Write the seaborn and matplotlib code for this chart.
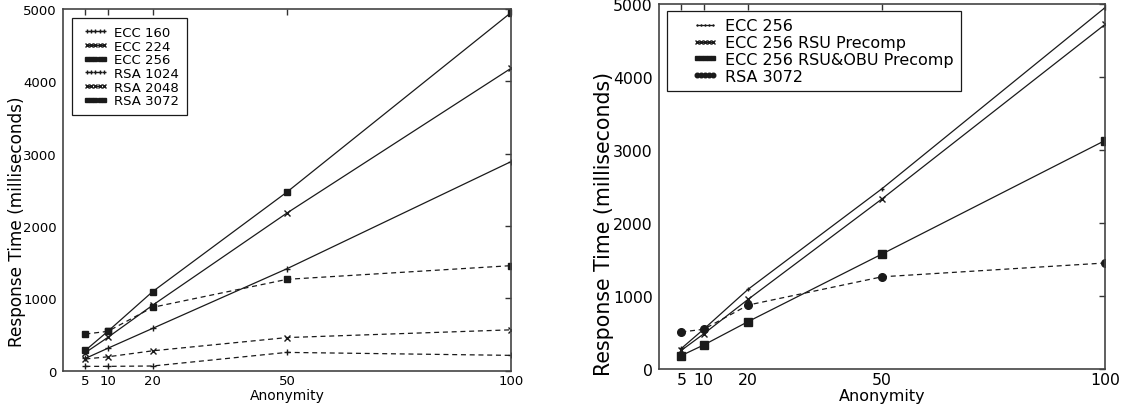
import matplotlib
matplotlib.use("Agg")
import matplotlib.pyplot as plt
import seaborn as sns
from matplotlib.lines import Line2D
from matplotlib.legend_handler import HandlerLine2D

anonymity = [5, 10, 20, 50, 100]
xticks = [5, 10, 20, 50, 100]
yticks = [0, 1000, 2000, 3000, 4000, 5000]

# Left panel
ecc160 = [170, 310, 585, 1410, 2890]
ecc224 = [250, 460, 905, 2180, 4180]
ecc256 = [281, 544, 1093, 2470, 4950]
rsa1024 = [60, 60, 65, 253, 212]
rsa2048 = [162, 192, 275, 458, 565]
rsa3072 = [507, 544, 876, 1263, 1452]

# Right panel
ecc256_rsu = [255, 480, 955, 2330, 4720]
ecc256_rsu_obu = [184, 328, 650, 1575, 3130]

sns.set_theme(style="white")
plt.rcParams['font.family'] = ['DejaVu Sans']
plt.rcParams['text.color'] = 'black'
plt.rcParams['axes.labelcolor'] = 'black'
plt.rcParams['xtick.color'] = 'black'
plt.rcParams['ytick.color'] = 'black'


class ShiftedHandler(HandlerLine2D):
    def __init__(self, shift=0, **kw):
        super().__init__(**kw)
        self.shift = shift

    def create_artists(self, legend, orig_handle, xdescent, ydescent, width, height,
                       fontsize, trans):
        return super().create_artists(legend, orig_handle, xdescent - self.shift, ydescent,
                                      width, height, fontsize, trans)


fig = plt.figure(figsize=(11.27, 4.10), dpi=100)
ax1 = fig.add_axes([63/1127, 1-371.7/410, (511-63)/1127, (371.7-10)/410])
ax2 = fig.add_axes([659/1127, 1-370/410, (1105-659)/1127, (370-5)/410])

LW = 0.9

left_series = [
    (ecc160, "ECC 160", '+', '-', 5),
    (ecc224, "ECC 224", 'x', '-', 4),
    (ecc256, "ECC 256", 's', '-', 5),
    (rsa1024, "RSA 1024", '+', '--', 5),
    (rsa2048, "RSA 2048", 'x', '--', 4),
    (rsa3072, "RSA 3072", 's', '--', 5),
]
right_series = [
    (ecc256, "ECC 256", '+', '-', 3.5),
    (ecc256_rsu, "ECC 256 RSU Precomp", 'x', '-', 4),
    (ecc256_rsu_obu, "ECC 256 RSU&OBU Precomp", 's', '-', 5.5),
    (rsa3072, "RSA 3072", 'o', '--', 5.5),
]

for ax, series in ((ax1, left_series), (ax2, right_series)):
    for y, label, m, ls, ms in series:
        kw = dict(color='k', marker=m, linewidth=LW, markersize=ms,
                  markeredgecolor='k', markerfacecolor='k', markeredgewidth=1.0, label=label)
        if ls == '--':
            kw['dashes'] = (4, 3)
        sns.lineplot(x=anonymity, y=y, ax=ax, **kw)

panel_cfg = [
    (ax1, 9.5, 10, 12.2, 0.5, (-0.083, 0.414)),
    (ax2, 11.3, 11.5, 14.8, 0.5, (-0.101, 0.40)),
]
for ax, tfs, xlfs, ylfs, xlpad, ylcoords in panel_cfg:
    ax.set_xlim(0, 100)
    ax.set_ylim(0, 5000)
    ax.set_xticks(xticks)
    ax.set_yticks(yticks)
    ax.set_xticklabels([str(v) for v in xticks], fontsize=tfs)
    ax.set_yticklabels([str(v) for v in yticks], fontsize=tfs)
    ax.set_xlabel("Anonymity", fontsize=xlfs, labelpad=xlpad)
    ax.set_ylabel("Response Time (milliseconds)", fontsize=ylfs)
    ax.yaxis.set_label_coords(*ylcoords)
    ax.tick_params(axis='both', direction='out', length=4, width=1, color='#333333')
    ax.tick_params(axis='x', pad=-1.5)
    ax.tick_params(axis='y', pad=0.5)
    for sp in ax.spines.values():
        sp.set_color('#444444')
        sp.set_linewidth(1.2)
    secx = ax.secondary_xaxis('top')
    secx.set_xticks(xticks)
    secx.tick_params(direction='in', length=4, width=1, labeltop=False, color='#333333')
    secx.spines['top'].set_visible(False)
    secy = ax.secondary_yaxis('right')
    secy.set_yticks(yticks)
    secy.tick_params(direction='in', length=4, width=1, labelright=False, color='#333333')
    secy.spines['right'].set_visible(False)

leg1 = ax1.legend(loc='upper left', fontsize=9.5, numpoints=5, handlelength=1.9,
                  markerscale=0.6, frameon=True, fancybox=False, edgecolor='k',
                  framealpha=1, borderpad=0.6, labelspacing=0.05, handletextpad=0.7,
                  borderaxespad=0, bbox_to_anchor=(9/448, 1-9/362),
                  handler_map={Line2D: ShiftedHandler(shift=2)})
leg1.get_frame().set_linewidth(0.9)
leg2 = ax2.legend(loc='upper left', fontsize=11.5, numpoints=5, handlelength=1.6,
                  markerscale=0.6, frameon=True, fancybox=False, edgecolor='k',
                  framealpha=1, borderpad=0.45, labelspacing=0.12, handletextpad=1.6,
                  borderaxespad=0, bbox_to_anchor=(8/446, 1-7/365),
                  handler_map={Line2D: ShiftedHandler(shift=13)})
leg2.get_frame().set_linewidth(0.9)

fig.savefig("out.png", dpi=100)
